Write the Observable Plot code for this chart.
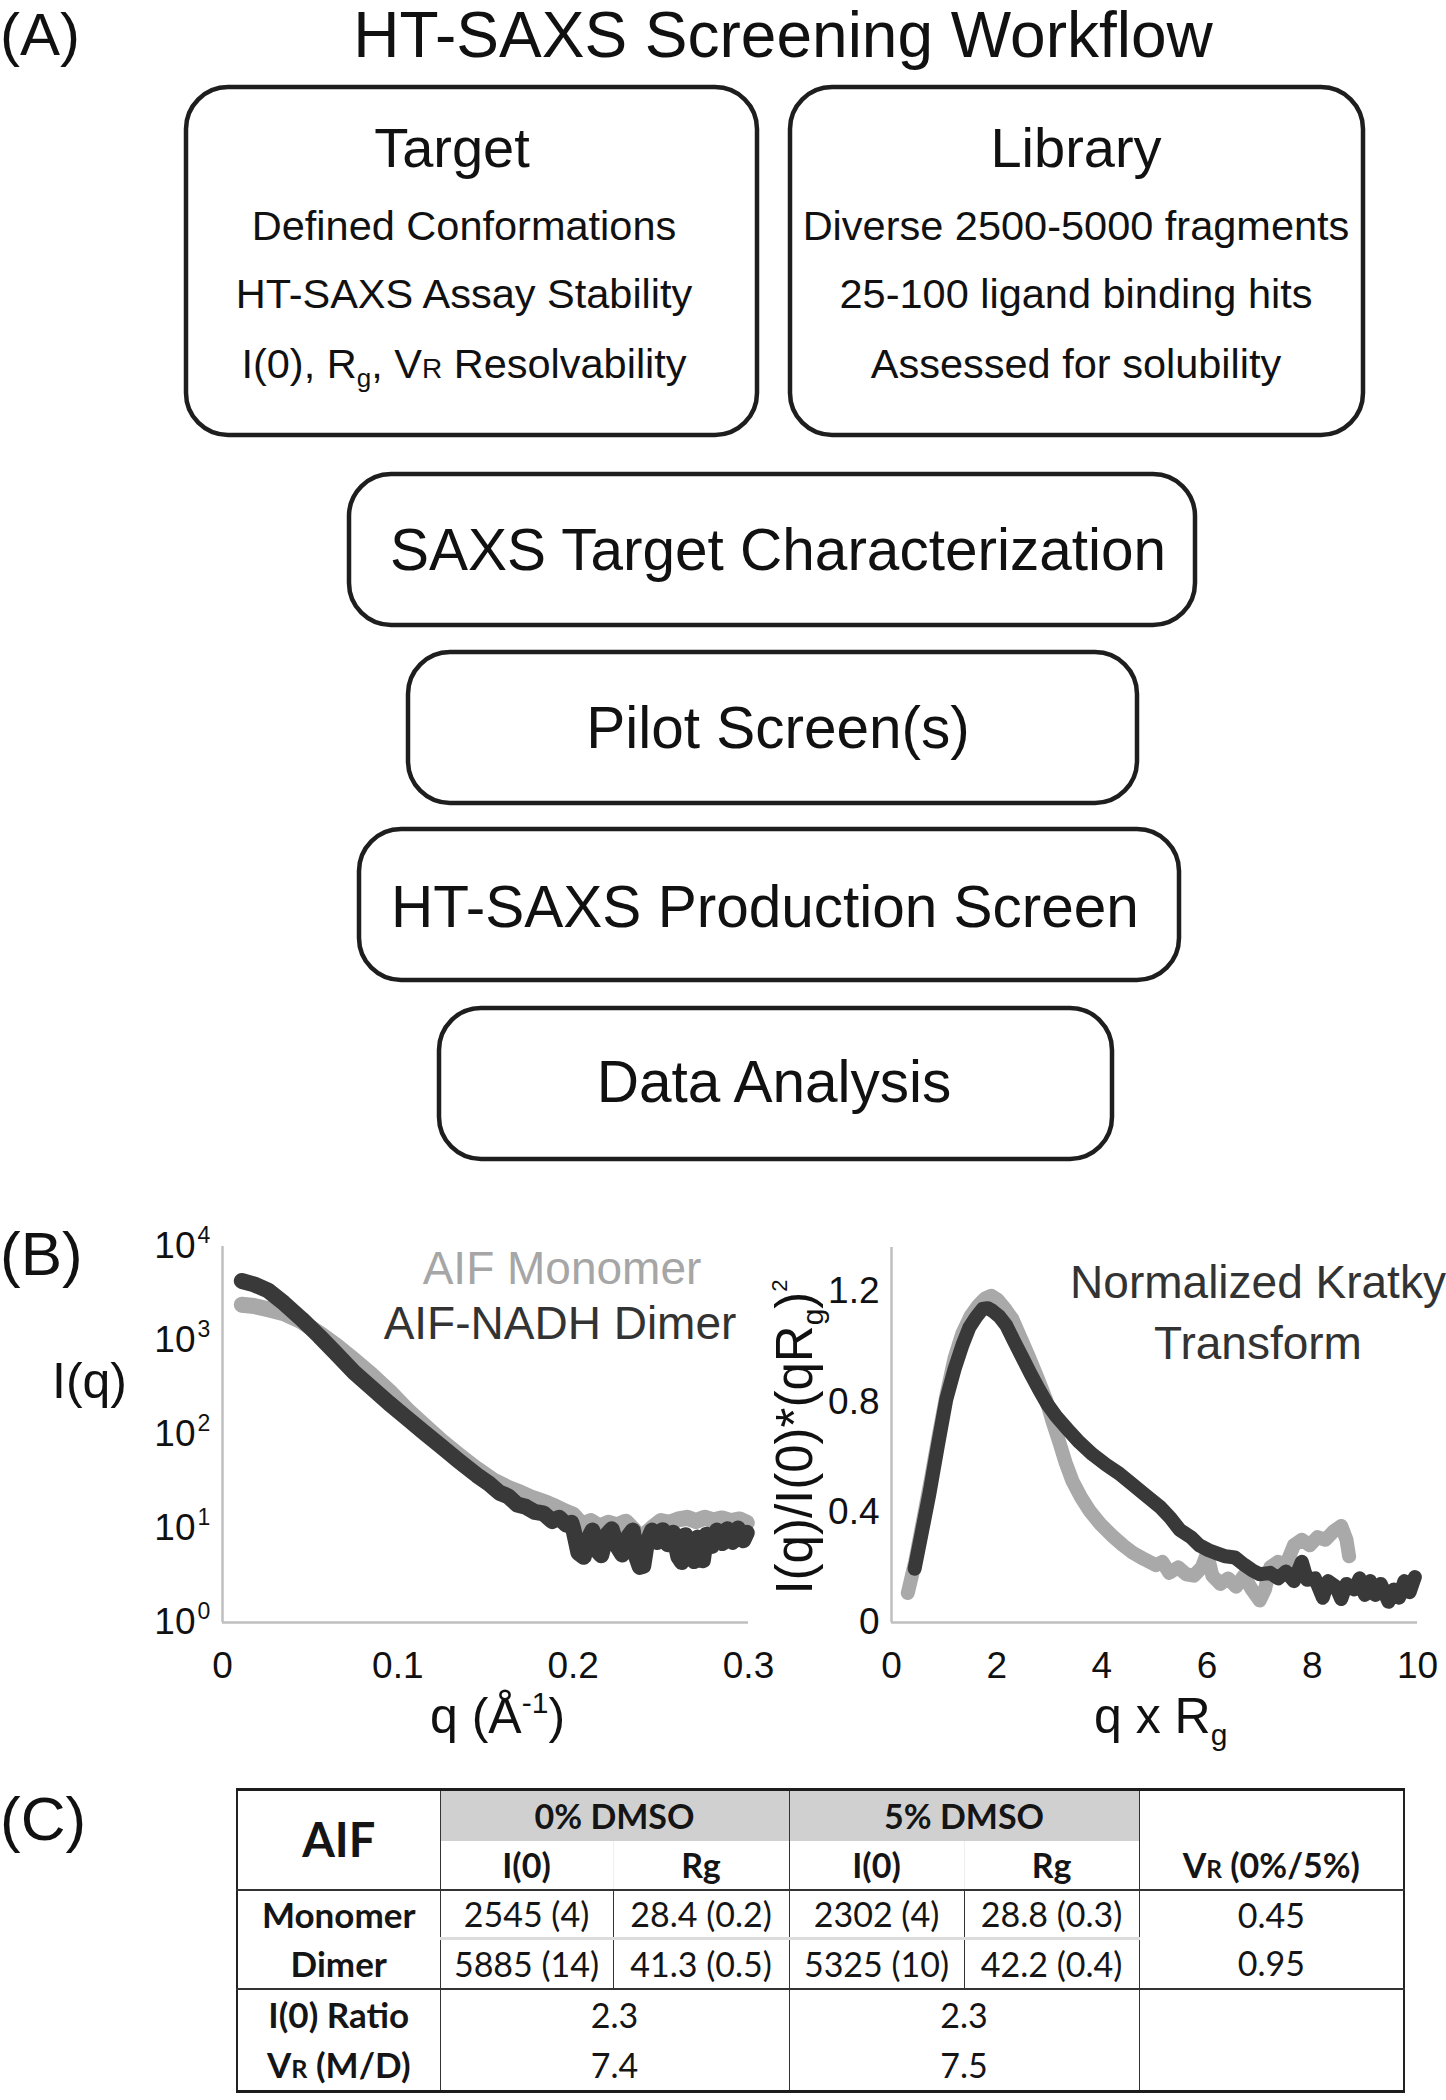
<!DOCTYPE html>
<html><head><meta charset="utf-8">
<script src="https://cdn.jsdelivr.net/npm/d3@7"></script>
<script src="https://cdn.jsdelivr.net/npm/@observablehq/plot@0.6"></script>
<style>
body{margin:0;background:#fff}
#page{position:relative;width:1446px;height:2100px;overflow:hidden;background:#fff}
#page > svg{position:absolute}
#tbl{position:absolute;left:236px;top:1788px;width:1167px;table-layout:fixed;border-collapse:collapse;font-family:Lato,'Open Sans',sans-serif;color:#151515;border-top:3px solid #1c1c1c;border-bottom:3px solid #1c1c1c;border-left:2px solid #222;border-right:2px solid #222}
#tbl td,#tbl th{padding:0;text-align:center;vertical-align:middle;white-space:nowrap;font-size:34px;line-height:1}
#tbl th{font-weight:700}
#tbl .lab{font-weight:700;font-size:35px}
#tbl .aif{font-size:47px}
#tbl .band{background:#d0d0d0}
#tbl .c1{border-right:1.5px solid #333}
#tbl .vl{border-left:1.5px solid #333}
#tbl .lvl{border-left:1px solid #eeeeee}
#tbl .hb{border-bottom:2px solid #333}
#tbl .mb{border-bottom:3px solid #dcdcdc}
.sc{font-size:0.72em}
</style></head><body><div id="page"></div>
<script>
// ---------- Panel B data ----------
const monoQ = [0.011,0.018,0.026,0.035,0.045,0.055,0.065,0.075,0.085,0.095,0.105,0.115,0.125,0.135,0.145,0.155,0.163,0.170,0.177,0.184,0.190,0.196,0.200,0.205,0.210,0.215,0.220,0.225,0.230,0.235,0.239,0.242,0.246,0.250,0.255,0.260,0.265,0.270,0.275,0.280,0.285,0.290,0.295,0.299];
const monoI = [2400,2330,2150,1950,1600,1200,880,620,430,290,185,125,85,60,43,32,27,24,21,19,17,15,14,11,12,10.5,11.5,10.8,11.8,9.5,5,9,10.5,12,11.5,12.5,13,12,13,12.2,12.8,12,12.5,11.5];
const dimQ = [0.011,0.018,0.026,0.035,0.045,0.055,0.065,0.075,0.085,0.095,0.105,0.115,0.125,0.135,0.145,0.152,0.158,0.163,0.168,0.173,0.178,0.183,0.188,0.192,0.196,0.199,0.200,0.203,0.206,0.209,0.211,0.213,0.216,0.219,0.222,0.225,0.228,0.231,0.234,0.236,0.238,0.240,0.242,0.245,0.248,0.251,0.254,0.257,0.260,0.262,0.264,0.267,0.269,0.271,0.274,0.276,0.279,0.282,0.285,0.288,0.291,0.294,0.297,0.299];
const dimI = [4300,3950,3400,2500,1700,1120,720,460,315,215,150,105,74,52,37,30,24,22,18,17,15,14.5,12,13,11,11.5,10,5.5,5.0,8,9.5,6,5.2,8.5,9.8,6.5,5.3,8,9.5,5,3.9,4.0,7,9.5,7.2,9.6,6.8,9,5,4.4,8.5,6,4.5,8,4.6,8.6,6.5,9.5,7,9.8,7.2,10,7.5,9];

const kMonoX = [0.31,0.45,0.6,0.75,0.9,1.05,1.2,1.35,1.5,1.65,1.78,1.9,2.02,2.15,2.3,2.46,2.62,2.78,2.94,3.06,3.19,3.31,3.44,3.6,3.76,3.98,4.2,4.4,4.58,4.8,5.03,5.15,5.28,5.45,5.6,5.75,5.9,6.0,6.1,6.25,6.4,6.55,6.7,6.85,7.0,7.1,7.2,7.35,7.5,7.65,7.8,7.95,8.1,8.25,8.4,8.55,8.65,8.7];
const kMonoY = [0.107,0.22,0.37,0.52,0.68,0.83,0.96,1.05,1.11,1.15,1.175,1.185,1.17,1.14,1.1,1.03,0.96,0.885,0.808,0.73,0.654,0.58,0.513,0.455,0.407,0.355,0.314,0.28,0.254,0.23,0.208,0.22,0.18,0.2,0.175,0.17,0.2,0.25,0.17,0.14,0.16,0.13,0.17,0.12,0.08,0.12,0.2,0.22,0.21,0.28,0.3,0.28,0.31,0.3,0.33,0.35,0.3,0.24];
const kDimX = [0.44,0.58,0.72,0.88,1.04,1.2,1.35,1.48,1.61,1.73,1.83,1.92,2.05,2.18,2.33,2.49,2.65,2.81,2.97,3.13,3.35,3.57,3.82,4.08,4.33,4.58,4.84,5.1,5.3,5.48,5.69,5.85,6.03,6.2,6.35,6.53,6.7,6.85,7.0,7.2,7.35,7.5,7.65,7.8,7.9,8.05,8.2,8.3,8.45,8.55,8.65,8.8,8.9,9.0,9.1,9.2,9.3,9.45,9.55,9.65,9.75,9.85,9.95];
const kDimY = [0.195,0.33,0.466,0.64,0.808,0.92,1.007,1.07,1.108,1.137,1.14,1.13,1.11,1.078,1.02,0.96,0.9,0.843,0.79,0.748,0.7,0.654,0.61,0.572,0.54,0.501,0.46,0.42,0.38,0.336,0.31,0.28,0.262,0.25,0.24,0.236,0.21,0.19,0.175,0.18,0.16,0.185,0.15,0.22,0.155,0.16,0.09,0.15,0.13,0.085,0.14,0.12,0.16,0.1,0.15,0.1,0.14,0.075,0.12,0.09,0.15,0.11,0.165];

const logTicks = [1,10,100,1000,10000];
const logExps = ["0","1","2","3","4"];
const qTicks = [0,0.1,0.2,0.3];
const kxTicks = [0,2,4,6,8,10];
const kyTicks = [0,0.4,0.8,1.2];

// ---------- Panel C data ----------
const sampleNames = ["Monomer","Dimer"];
const i0Dmso0 = ["2545 (4)","5885 (14)"];
const rgDmso0 = ["28.4 (0.2)","41.3 (0.5)"];
const i0Dmso5 = ["2302 (4)","5325 (10)"];
const rgDmso5 = ["28.8 (0.3)","42.2 (0.4)"];
const vrRatio = ["0.45","0.95"];
const summaryNames = ["I(0) Ratio",'V<span class="sc">R</span> (M/D)'];
const summary0 = ["2.3","7.4"];
const summary5 = ["2.3","7.5"];

const page = document.getElementById("page");
const FONT = "'Liberation Sans', Arial, Helvetica, sans-serif";
const DARK = "#393939", GREY = "#aaa9a9", AXIS = "#bfbfbf";

// ---------- Left chart: I(q) ----------
const monoData = monoQ.map((q,i)=>({q, I: monoI[i]}));
const dimData = dimQ.map((q,i)=>({q, I: dimI[i]}));
const left = Plot.plot({
  width: 780, height: 560,
  marginLeft: 222, marginRight: 32, marginTop: 56, marginBottom: 128,
  x: {domain: [0, 0.3]},
  y: {type: "log", domain: [1, 10000]},
  style: {fontFamily: FONT, fontSize: "37px", color: "#111", background: "transparent", overflow: "visible"},
  marks: [
    Plot.ruleX([0], {stroke: AXIS, strokeWidth: 2.5}),
    Plot.ruleY([1], {stroke: AXIS, strokeWidth: 2.5}),
    Plot.line(monoData, {x: "q", y: "I", stroke: GREY, strokeWidth: 16, strokeLinecap: "round", strokeLinejoin: "round"}),
    Plot.line(dimData, {x: "q", y: "I", stroke: DARK, strokeWidth: 16, strokeLinecap: "round", strokeLinejoin: "round"}),
    Plot.axisX({ticks: qTicks, tickSize: 0, tickPadding: 29, tickFormat: d => String(d), fontSize: 37, label: null}),
    Plot.axisY({ticks: logTicks, tickSize: 0, tickPadding: 27, tickFormat: () => "10", fontSize: 37, label: null}),
    Plot.text(logExps, {y: (d,i) => logTicks[i], text: d => d, frameAnchor: "left", dx: -25, dy: -11, textAnchor: "start", fontSize: 23, fill: "#111"})
  ]
});
left.style.left = "0px"; left.style.top = "1190px";
page.appendChild(left);

// ---------- Right chart: Kratky ----------
const kMono = kMonoX.map((x,i)=>({x, y: kMonoY[i]}));
const kDim = kDimX.map((x,i)=>({x, y: kDimY[i]}));
const right = Plot.plot({
  width: 666, height: 560,
  marginLeft: 111, marginRight: 29, marginTop: 57, marginBottom: 128,
  x: {domain: [0, 10]},
  y: {domain: [0, 1.36]},
  style: {fontFamily: FONT, fontSize: "37px", color: "#111", background: "transparent", overflow: "visible"},
  marks: [
    Plot.ruleX([0], {stroke: AXIS, strokeWidth: 2.5}),
    Plot.ruleY([0], {stroke: AXIS, strokeWidth: 2.5}),
    Plot.line(kMono, {x: "x", y: "y", stroke: GREY, strokeWidth: 14, strokeLinecap: "round", strokeLinejoin: "round"}),
    Plot.line(kDim, {x: "x", y: "y", stroke: DARK, strokeWidth: 14, strokeLinecap: "round", strokeLinejoin: "round"}),
    Plot.axisX({ticks: kxTicks, tickSize: 0, tickPadding: 29, tickFormat: d => String(d), fontSize: 37, label: null}),
    Plot.axisY({ticks: kyTicks, tickSize: 0, tickPadding: 12, tickFormat: d => String(d), fontSize: 37, label: null})
  ]
});
right.style.left = "780px"; right.style.top = "1190px";
page.appendChild(right);

// ---------- Panel C table ----------
let h = '<table id="tbl"><colgroup><col style="width:203px"><col style="width:173px"><col style="width:176px"><col style="width:175px"><col style="width:175px"><col style="width:265px"></colgroup>';
h += '<tr style="height:51px"><th rowspan="2" class="aif c1 hb">AIF</th><th colspan="2" class="band">0% DMSO</th><th colspan="2" class="band vl">5% DMSO</th><th class="vl"></th></tr>';
h += '<tr style="height:49px"><th class="hb">I(0)</th><th class="hb lvl">Rg</th><th class="hb vl">I(0)</th><th class="hb lvl">Rg</th><th class="hb vl">V<span class="sc">R</span> (0%/5%)</th></tr>';
sampleNames.forEach((n,i)=>{
  const rb = i === 0 ? "mb" : "hb";
  h += `<tr style="height:${i===0?49:50}px"><td class="lab c1 ${i===0?'':'hb'}">${n}</td><td class="${rb}">${i0Dmso0[i]}</td><td class="${rb} vl">${rgDmso0[i]}</td><td class="${rb} vl">${i0Dmso5[i]}</td><td class="${rb} vl">${rgDmso5[i]}</td><td class="vl ${i===0?'':'hb'}">${vrRatio[i]}</td></tr>`;
});
summaryNames.forEach((n,i)=>{
  h += `<tr style="height:${i===0?51:52}px"><td class="lab c1">${n}</td><td colspan="2">${summary0[i]}</td><td colspan="2" class="vl">${summary5[i]}</td><td class="vl"></td></tr>`;
});
h += '</table>';
page.insertAdjacentHTML("beforeend", h);

// ---------- Overlay: panel A diagram, panel letters, titles ----------
let o = `<svg width="1446" height="2100" style="left:0;top:0;pointer-events:none" font-family="${FONT}" fill="#111">`;
o += `<text x="0" y="55" font-size="60">(A)</text>`;
o += `<text x="783" y="57" font-size="64" text-anchor="middle">HT-SAXS Screening Workflow</text>`;
const bx = (x,y,w,hh) => `<rect x="${x}" y="${y}" width="${w}" height="${hh}" rx="42" ry="42" fill="none" stroke="#1e1e1e" stroke-width="4.5"/>`;
o += bx(186,87,571,348) + bx(790,87,573,348) + bx(349,474,846,151) + bx(408,652,729,151) + bx(359,829,820,151) + bx(439,1008,673,151);
o += `<text x="452" y="167" font-size="56" text-anchor="middle">Target</text>`;
o += `<text x="464" y="240" font-size="41.5" text-anchor="middle">Defined Conformations</text>`;
o += `<text x="464" y="308" font-size="41.5" text-anchor="middle">HT-SAXS Assay Stability</text>`;
o += `<text x="464" y="378" font-size="41.5" text-anchor="middle">I(0), R<tspan font-size="26" dy="9">g</tspan><tspan dy="-9">, V</tspan><tspan font-size="28">R</tspan> Resolvability</text>`;
o += `<text x="1076" y="167" font-size="56" text-anchor="middle">Library</text>`;
o += `<text x="1076" y="240" font-size="41.5" text-anchor="middle">Diverse 2500-5000 fragments</text>`;
o += `<text x="1076" y="308" font-size="41.5" text-anchor="middle">25-100 ligand binding hits</text>`;
o += `<text x="1076" y="378" font-size="41.5" text-anchor="middle">Assessed for solubility</text>`;
o += `<text x="778" y="570" font-size="58.5" text-anchor="middle">SAXS Target Characterization</text>`;
o += `<text x="778" y="748" font-size="58.5" text-anchor="middle">Pilot Screen(s)</text>`;
o += `<text x="765" y="927" font-size="58.5" text-anchor="middle">HT-SAXS Production Screen</text>`;
o += `<text x="774" y="1102" font-size="58.5" text-anchor="middle">Data Analysis</text>`;
// panel B texts
o += `<text x="0" y="1275" font-size="62">(B)</text>`;
o += `<text x="562" y="1284" font-size="46" text-anchor="middle" fill="#a6a6a6">AIF Monomer</text>`;
o += `<text x="560" y="1339" font-size="46" text-anchor="middle" fill="#333">AIF-NADH Dimer</text>`;
o += `<text x="52" y="1398" font-size="50">I(q)</text>`;
o += `<text x="430" y="1733" font-size="50">q (Å<tspan font-size="30" dy="-20">-1</tspan><tspan dy="20">)</tspan></text>`;
o += `<text x="1258" y="1298" font-size="46" text-anchor="middle" fill="#333">Normalized Kratky</text>`;
o += `<text x="1258" y="1359" font-size="46" text-anchor="middle" fill="#333">Transform</text>`;
o += `<text transform="translate(812,1437) rotate(-90)" font-size="51" text-anchor="middle">I(q)/I(0)*(qR<tspan font-size="30" dy="11">g</tspan><tspan dy="-11">)</tspan><tspan font-size="22" dy="-25">2</tspan></text>`;
o += `<text x="1094" y="1733" font-size="50">q x R<tspan font-size="30" dy="12">g</tspan></text>`;
o += `<text x="0" y="1840" font-size="62">(C)</text>`;
o += `</svg>`;
page.insertAdjacentHTML("beforeend", o);
</script></body></html>
